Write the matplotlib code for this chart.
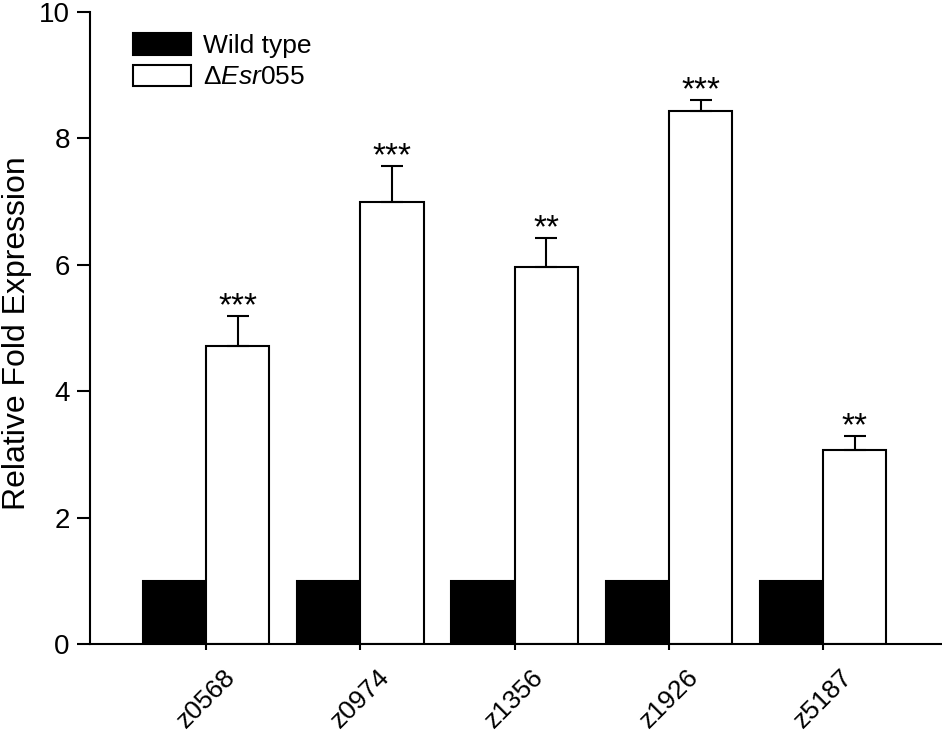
import matplotlib.pyplot as plt
import numpy as np

plt.rcParams['font.family'] = ['Liberation Sans', 'DejaVu Sans']
plt.rcParams['mathtext.fontset'] = 'custom'
plt.rcParams['mathtext.rm'] = 'Liberation Sans'
plt.rcParams['mathtext.it'] = 'Liberation Sans:italic'

# data
genes = ['z0568', 'z0974', 'z1356', 'z1926', 'z5187']
wild_type = [1.0, 1.0, 1.0, 1.0, 1.0]
mutant = [4.72, 6.99, 5.97, 8.43, 3.07]
mutant_err = [0.47, 0.57, 0.46, 0.18, 0.22]
signif = ['***', '***', '**', '***', '**']

x = np.arange(len(genes))
w = 0.41

fig = plt.figure(figsize=(9.42, 7.34), dpi=100)
ax = fig.add_axes([0.0955, 0.1226, 0.9045, 0.8611])

ax.bar(x - w/2, wild_type, w, color='black', edgecolor='black', linewidth=1.5, label='Wild type')
ax.bar(x + w/2, mutant, w, color='white', edgecolor='black', linewidth=1.5,
       label=r'$\Delta\mathit{Esr055}$')
ax.errorbar(x + w/2, mutant, yerr=[np.zeros(len(mutant)), mutant_err], fmt='none',
            ecolor='black', elinewidth=1.5, capsize=8, capthick=1.5)

for xi, m, e, s in zip(x, mutant, mutant_err, signif):
    ax.annotate(s, (xi + w/2, m + e), xytext=(0, 0.5), textcoords='offset points',
                ha='center', va='baseline', fontsize=24)

ax.set_xlim(-0.753, 4.77)
ax.set_ylim(0, 10)
ax.set_yticks([0, 2, 4, 6, 8, 10])
ax.set_xticks(x)
ax.set_xticklabels(genes, rotation=45, ha='center', va='top')
ax.tick_params(axis='both', width=1.5, direction='out')
ax.tick_params(axis='y', labelsize=20, length=9.5, pad=5)
ax.tick_params(axis='x', labelsize=19, length=4, pad=11)
ax.spines['top'].set_visible(False)
ax.spines['right'].set_visible(False)
ax.spines['left'].set_linewidth(1.5)
ax.spines['bottom'].set_linewidth(1.5)
ax.set_ylabel('Relative Fold Expression', fontsize=23)
ax.yaxis.set_label_coords(-0.068, 0.492)

ax.legend(loc='upper left', bbox_to_anchor=(0.0224, 1.004), frameon=False, fontsize=19,
          handlelength=2.2, handleheight=0.87, labelspacing=0.25, handletextpad=0.45)

fig.savefig('out.png', dpi=100)
